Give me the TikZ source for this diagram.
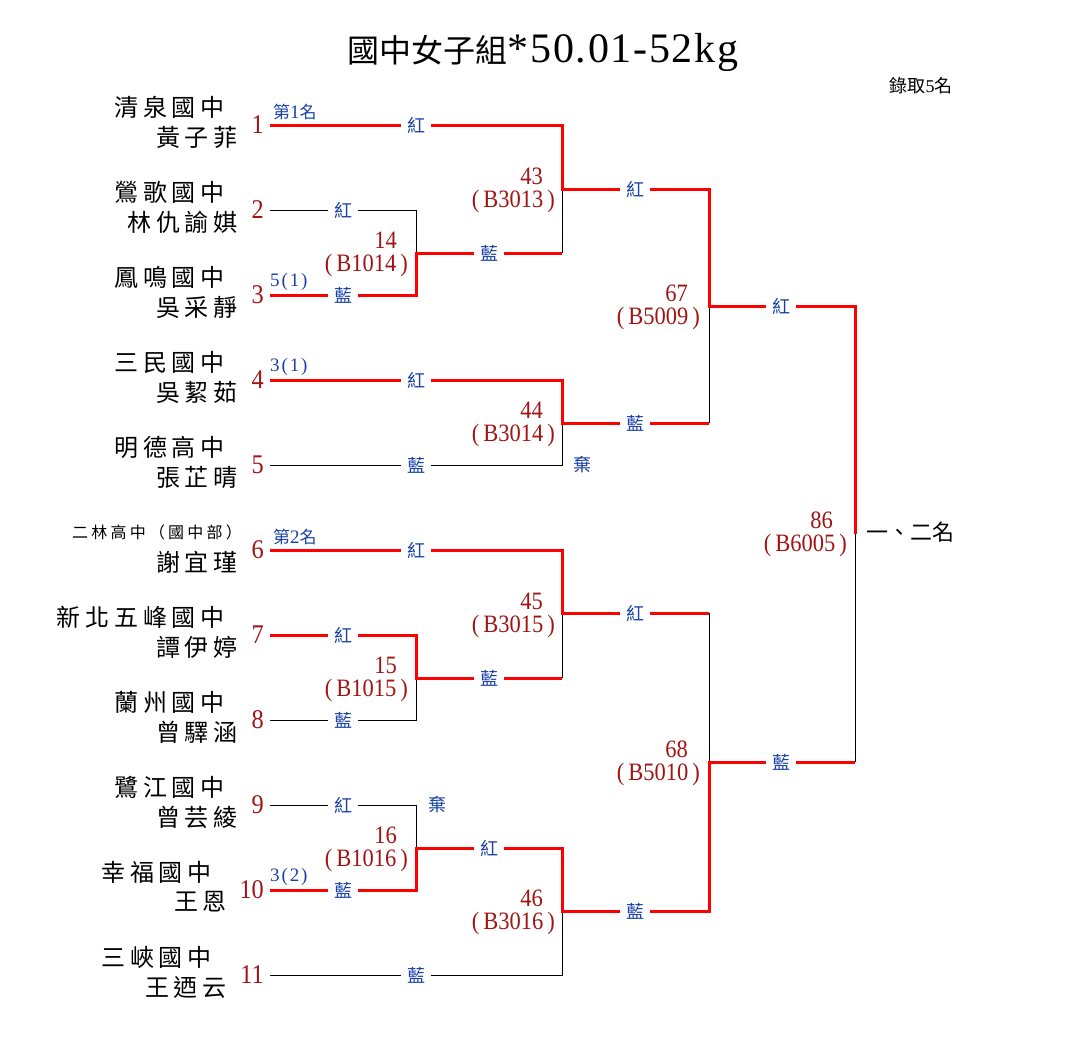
\documentclass[tikz,border=0pt]{standalone}
\usepackage{fontspec}
\setmainfont{Liberation Serif}
\newfontfamily\cjk{Noto Sans CJK TC}
\newfontfamily\cjkw[LetterSpace=20]{Noto Sans CJK TC}
\newfontfamily\numf[FakeStretch=0.9]{Liberation Serif}
\newfontfamily\seedf[LetterSpace=10]{Liberation Serif}
\newfontfamily\titlef[LetterSpace=4]{Liberation Serif}
\definecolor{winred}{RGB}{255,0,0}
\definecolor{numred}{RGB}{160,20,20}
\definecolor{lab}{RGB}{25,65,165}
\begin{document}
\begin{tikzpicture}[x=1pt,y=-1pt,
  loser/.style={line width=1pt,black},
  win/.style={line width=3pt,winred,line join=miter},
  lbl/.style={fill=white,text=lab,font=\cjk\fontsize{18}{18}\selectfont,inner xsep=6pt,inner ysep=1pt},
  qi/.style={text=lab,font=\cjk\fontsize{18}{18}\selectfont,inner sep=0pt},
  seed/.style={text=lab,anchor=west,inner sep=0pt,font=\seedf\fontsize{19}{19}\selectfont},
  enum/.style={text=numred,anchor=east,inner sep=0pt,font=\numf\fontsize{27}{27}\selectfont},
  mnum/.style={text=numred,anchor=east,inner sep=0pt,font=\numf\fontsize{25}{25}\selectfont},
  school/.style={anchor=east,inner sep=0pt,font=\cjkw\fontsize{24}{24}\selectfont},
]
\useasboundingbox (0,0) rectangle (1085,1060);

% title
\node[anchor=base,inner sep=0pt] (title) at (543,62)
  {{\cjk\fontsize{32}{32}\selectfont 國中女子組}{\titlef\fontsize{42}{42}\selectfont *50.01-52kg}};
\node[inner sep=0pt,font=\fontsize{18}{18}\selectfont] (quota) at (921,86) {{\cjk 錄取}5{\cjk 名}};

% entrants
\foreach \i/\y/\xs/\xn/\sch/\nm in {
  1/125/225/238/清泉國中/黃子菲,
  2/210/225/238/鶯歌國中/林仇諭娸,
  3/295/225/238/鳳鳴國中/吳采靜,
  4/380/225/238/三民國中/吳絜茹,
  5/465/225/238/明德高中/張芷晴,
  7/635/225/238/新北五峰國中/譚伊婷,
  8/720/225/238/蘭州國中/曾驛涵,
  9/805/225/238/鷺江國中/曾芸綾,
  10/890/212/227/幸福國中/王恩,
  11/975/212/227/三峽國中/王迺云}
{
  \node[enum] (n\i) at (264,\y) {\i};
  \node[school] (sc\i) at (\xs,\y-18) {\sch};
  \node[school] (p\i) at (\xn,\y+12) {\nm};
}
\node[enum] (n6) at (264,550) {6};
\node[anchor=east,inner sep=0pt,font=\cjkw\fontsize{16}{16}\selectfont] (sc6) at (242,532) {二林高中（國中部）};
\node[school] (p6) at (238,562) {謝宜瑾};

% coordinates
\foreach \i/\y in {1/125,2/210,3/295,4/380,5/465,6/550,7/635,8/720,9/805,10/890,11/975}
  \coordinate (s\i) at (270,\y);
\coordinate (a2) at (416,210); \coordinate (a3) at (416,295); \coordinate (m14) at (416,253);
\coordinate (a7) at (416,635); \coordinate (a8) at (416,720); \coordinate (m15) at (416,678);
\coordinate (a9) at (416,805); \coordinate (a10) at (416,890); \coordinate (m16) at (416,848);
\coordinate (a1) at (562,125); \coordinate (b14) at (562,253); \coordinate (m43) at (562,189);
\coordinate (a4) at (562,380); \coordinate (a5) at (562,465); \coordinate (m44) at (562,423);
\coordinate (a6) at (562,550); \coordinate (b15) at (562,678); \coordinate (m45) at (562,613);
\coordinate (b16) at (562,848); \coordinate (a11) at (562,975); \coordinate (m46) at (562,911);
\coordinate (c43) at (709,189); \coordinate (c44) at (709,423); \coordinate (m67) at (709,306);
\coordinate (c45) at (709,613); \coordinate (c46) at (709,911); \coordinate (m68) at (709,762);
\coordinate (d67) at (855,306); \coordinate (d68) at (855,762); \coordinate (m86) at (855,534);

% losing lines
\draw[loser] (s2) -- (a2) -- (m14);
\draw[loser] (b14) -- (m43);
\draw[loser] (s5) -- (a5) -- (m44);
\draw[loser] (c44) -- (m67);
\draw[loser] (s8) -- (a8) -- (m15);
\draw[loser] (b15) -- (m45);
\draw[loser] (s9) -- (a9) -- (m16);
\draw[loser] (s11) -- (a11) -- (m46);
\draw[loser] (c45) -- (m68);
\draw[loser] (d68) -- (m86);

% winning lines
\draw[win] (s1) -- (a1) -- (m43) -- (c43) -- (m67) -- (d67) -- (m86);
\draw[win] (s3) -- (a3) -- (m14) -- (b14);
\draw[win] (s4) -- (a4) -- (m44) -- (c44);
\draw[win] (s6) -- (a6) -- (m45) -- (c45);
\draw[win] (s7) -- (a7) -- (m15) -- (b15);
\draw[win] (s10) -- (a10) -- (m16) -- (b16) -- (m46) -- (c46) -- (m68) -- (d68);

% corner labels
\node[lbl] (l1) at (416,125) {紅};
\node[lbl] (l2) at (343,210) {紅};
\node[lbl] (l3) at (343,295) {藍};
\node[lbl] (l14) at (489,253) {藍};
\node[lbl] (l4) at (416,380) {紅};
\node[lbl] (l5) at (416,465) {藍};
\node[lbl] (l43) at (635,189) {紅};
\node[lbl] (l44) at (635,423) {藍};
\node[lbl] (l67) at (781,306) {紅};
\node[lbl] (l68) at (781,762) {藍};
\node[lbl] (l6) at (416,550) {紅};
\node[lbl] (l7) at (343,635) {紅};
\node[lbl] (l8) at (343,720) {藍};
\node[lbl] (l15) at (489,678) {藍};
\node[lbl] (l45) at (635,613) {紅};
\node[lbl] (l9) at (343,805) {紅};
\node[lbl] (l10) at (343,890) {藍};
\node[lbl] (l16) at (489,848) {紅};
\node[lbl] (l11) at (416,975) {藍};
\node[lbl] (l46) at (635,911) {藍};
\node[qi] (q5) at (582,465) {棄};
\node[qi] (q9) at (437,805) {棄};

% seeds
\node[seed] (sd1) at (273,112) {{\cjk\fontsize{17}{17}\selectfont 第}1{\cjk\fontsize{17}{17}\selectfont 名}};
\node[seed] (sd3) at (270,282) {5(1)};
\node[seed] (sd4) at (270,367) {3(1)};
\node[seed] (sd6) at (273,537) {{\cjk\fontsize{17}{17}\selectfont 第}2{\cjk\fontsize{17}{17}\selectfont 名}};
\node[seed] (sd10) at (270,877) {3(2)};

% match numbers
\foreach \m/\c/\xn/\xc/\y in {14/B1014/397/408/242, 15/B1015/397/408/667, 16/B1016/397/408/837,
  43/B3013/543/555/178, 44/B3014/543/555/412, 45/B3015/543/555/603, 46/B3016/543/555/900,
  67/B5009/688/700/295, 68/B5010/688/700/751, 86/B6005/833/847/522}
{
  \node[mnum] (mn\m) at (\xn,\y-2) {\m};
  \node[mnum] (mc\m) at (\xc,\y+23) {(\kern4pt\c\kern4pt)};
}

\node[anchor=west,inner sep=0pt,font=\cjk\fontsize{22}{22}\selectfont] (rank) at (866,532) {一、二名};
\end{tikzpicture}
\end{document}
